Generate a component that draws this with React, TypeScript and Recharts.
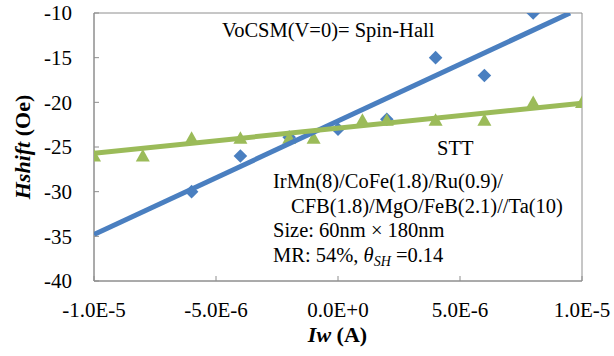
import React from 'react';
import { ScatterChart, Scatter, XAxis, YAxis, ReferenceArea } from 'recharts';

// ---- data ----
const xTicks = [-1e-5, -5e-6, 0, 5e-6, 1e-5];
const xTickLabels = ['-1.0E-5', '-5.0E-6', '0.0E+0', '5.0E-6', '1.0E-5'];
const yTicks = [-40, -35, -30, -25, -20, -15, -10];
const yTickLabels = ['-40', '-35', '-30', '-25', '-20', '-15', '-10'];

const spinHallX = [-6e-6, -4e-6, -2e-6, 0, 2e-6, 4e-6, 6e-6, 8e-6];
const spinHallY = [-30, -26, -23.9, -23, -21.9, -15, -17, -10];

const sttX = [-1e-5, -8e-6, -6e-6, -4e-6, -2e-6, -1e-6, 1e-6, 2e-6, 4e-6, 6e-6, 8e-6, 1e-5];
const sttY = [-26, -26, -24, -24, -24, -24, -22, -22, -22, -22, -20, -20];

const spinHallFitX = [-1e-5, 9.51e-6];
const spinHallFitY = [-34.8, -10];
const sttFitX = [-1e-5, 1e-5];
const sttFitY = [-25.7, -20.1];

const zip = (xs: number[], ys: number[]) => xs.map((x, i) => ({ x, y: ys[i] }));

const spinHallData = zip(spinHallX, spinHallY);
const sttData = zip(sttX, sttY);
const spinHallFit = zip(spinHallFitX, spinHallFitY);
const sttFit = zip(sttFitX, sttFitY);

// ---- styles ----
const FONT = "'Liberation Serif'";
const GREY = '#8e8e8e';
const BLUE = '#4a7fc0';
const GREEN = '#9bbb59';
const TICK_FS = 21;
const ANN_FS = 20.5;
const CSS = `
#root svg text.sf, #root svg text.sf tspan, #root .recharts-wrapper text.sf, #root .recharts-wrapper text.sf tspan {
  font-family: 'Liberation Serif', 'Times New Roman', serif !important;
}
`;

const XTick = (props: any) => {
  const { x, y, payload } = props;
  const i = xTicks.indexOf(payload.value);
  return (
    <g>
      <line x1={x} x2={x} y1={y} y2={y - 5} stroke={GREY} strokeWidth={1} />
      <text className="sf" x={x} y={y + 36} textAnchor="middle" style={{ fontFamily: FONT, fontSize: TICK_FS }} fill="#000">
        {i >= 0 ? xTickLabels[i] : ''}
      </text>
    </g>
  );
};

const YTick = (props: any) => {
  const { x, y, payload } = props;
  const i = yTicks.indexOf(payload.value);
  return (
    <g>
      <line x1={x} x2={x + 5} y1={y} y2={y} stroke={GREY} strokeWidth={1} />
      <text className="sf" x={x - 22} y={y} dy="0.35em" textAnchor="end" style={{ fontFamily: FONT, fontSize: TICK_FS }} fill="#000">
        {i >= 0 ? yTickLabels[i] : ''}
      </text>
    </g>
  );
};

const Diamond = (props: any) => {
  const { cx, cy } = props;
  if (cx == null || cy == null) return <g />;
  const r = 6.8;
  return <polygon points={`${cx},${cy - r} ${cx + r},${cy} ${cx},${cy + r} ${cx - r},${cy}`} fill={BLUE} />;
};

const Triangle = (props: any) => {
  const { cx, cy } = props;
  if (cx == null || cy == null) return <g />;
  const w = 7;
  const h = 12.5;
  return (
    <polygon
      points={`${cx},${cy - h * 0.55} ${cx + w},${cy + h * 0.45} ${cx - w},${cy + h * 0.45}`}
      fill={GREEN}
    />
  );
};

const NoShape = () => <g />;

const ann = { fontFamily: FONT, fontSize: ANN_FS };

export default function App() {
  return (
    <div style={{ position: 'absolute', left: 0, top: 0, width: 614, height: 356, background: '#fff' }}>
      <style>{CSS}</style>
      <ScatterChart width={614} height={356} margin={{ top: 13, right: 32, left: 0, bottom: 0 }}>
        <XAxis
          type="number"
          dataKey="x"
          domain={[-1e-5, 1e-5]}
          ticks={xTicks}
          interval={0}
          height={75}
          tickSize={0}
          tickMargin={0}
          tickLine={false}
          axisLine={{ stroke: GREY }}
          tick={<XTick />}
          allowDataOverflow
        />
        <YAxis
          type="number"
          dataKey="y"
          domain={[-40, -10]}
          ticks={yTicks}
          interval={0}
          width={94}
          tickSize={0}
          tickMargin={0}
          tickLine={false}
          axisLine={{ stroke: GREY }}
          tick={<YTick />}
          allowDataOverflow
        />
        <ReferenceArea x1={-1e-5} x2={1e-5} y1={-40} y2={-10} fill="none" stroke={GREY} strokeWidth={1} />
        <Scatter name="Spin-Hall" data={spinHallData} shape={<Diamond />} isAnimationActive={false} />
        <Scatter name="STT" data={sttData} shape={<Triangle />} isAnimationActive={false} />
        <Scatter
          name="Spin-Hall fit"
          data={spinHallFit}
          shape={<NoShape />}
          line={{ stroke: BLUE, strokeWidth: 5 }}
          isAnimationActive={false}
        />
        <Scatter
          name="STT fit"
          data={sttFit}
          shape={<NoShape />}
          line={{ stroke: GREEN, strokeWidth: 5 }}
          isAnimationActive={false}
        />
        <g fill="#000">
          <text className="sf" x={222} y={37} style={ann}>VoCSM(V=0)= Spin-Hall</text>
          <text className="sf" x={437} y={155} style={ann}>STT</text>
          <text className="sf" x={273} y={188} style={ann}>IrMn(8)/CoFe(1.8)/Ru(0.9)/</text>
          <text className="sf" x={291} y={213} style={ann}>CFB(1.8)/MgO/FeB(2.1)//Ta(10)</text>
          <text className="sf" x={273} y={237} style={ann}>Size: 60nm × 180nm</text>
          <text className="sf" x={273} y={262} style={ann}>
            MR: 54%, <tspan style={{ fontStyle: 'italic' }}>θ</tspan>
            <tspan style={{ fontStyle: 'italic', fontSize: 14 }} dy={4}>SH</tspan>
            <tspan dy={-4}> =0.14</tspan>
          </text>
          <text className="sf" x={337.5} y={342} textAnchor="middle" style={{ fontFamily: FONT, fontSize: 22, fontWeight: 'bold' }}>
            <tspan style={{ fontStyle: 'italic' }}>Iw</tspan> (A)
          </text>
          <text
            className="sf"
            x={30}
            y={147}
            textAnchor="middle"
            style={{ fontFamily: FONT, fontSize: 22, fontWeight: 'bold' }}
            transform="rotate(-90 30 147)"
          >
            <tspan style={{ fontStyle: 'italic' }}>Hshift</tspan> (Oe)
          </text>
        </g>
      </ScatterChart>
    </div>
  );
}
